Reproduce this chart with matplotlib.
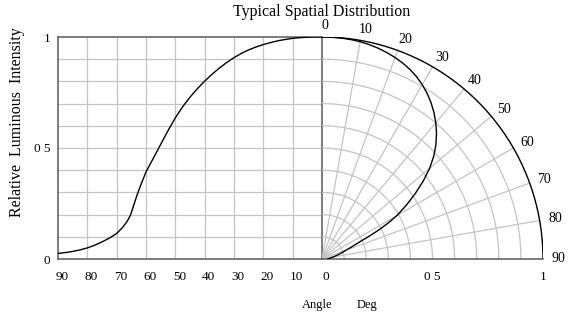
import numpy as np
import matplotlib.pyplot as plt
import matplotlib.transforms as mtransforms

plt.rcParams['font.family'] = ['Liberation Serif', 'DejaVu Serif']

# Relative luminous intensity (angle in degrees)
angle_deg = [0, 2.5, 5, 7.5, 10, 12.5, 15, 17.5, 20, 22.5, 25, 27.5, 30, 32.5, 35,
             37.5, 40, 42.5, 45, 47.5, 50, 52.5, 55, 57.5, 60, 61.5, 63, 64.5, 65.3,
             66.5, 68, 70, 72.5, 75, 77.5, 80, 82.5, 85, 87.5, 90]
intensity = [1.0, 1.0, 0.999, 0.997, 0.994, 0.989, 0.983, 0.975, 0.966, 0.955, 0.942,
             0.926, 0.907, 0.885, 0.86, 0.832, 0.801, 0.767, 0.729, 0.686, 0.636, 0.578,
             0.516, 0.454, 0.392, 0.343, 0.29, 0.23, 0.197, 0.168, 0.142, 0.115, 0.094,
             0.077, 0.062, 0.05, 0.041, 0.034, 0.029, 0.025]

left_ticks = [90, 80, 70, 60, 50, 40, 30, 20, 10, 0]
polar_labels = [0, 10, 20, 30, 40, 50, 60, 70, 80, 90]
y_ticks = [0, 0.5, 1]
y_ticklabels = ['0', '0 5', '1']

grid_c = '#c4c4c4'
frame_c = '#5a5a5a'

fig = plt.figure(figsize=(5.68, 3.17), dpi=100)
W, H = 568, 317
ax = fig.add_axes([58 / W, (H - 259) / H, 264 / W, 222 / H])
axp = fig.add_axes([322 / W, (H - 259) / H, 221 / W, 222 / H])

# ---- left cartesian panel
ax.set_xlim(90, 0)
ax.set_ylim(0, 1)
for a in range(10, 90, 10):
    ax.axvline(a, color=grid_c, lw=0.9, zorder=1)
for v in np.arange(0.1, 0.95, 0.1):
    ax.axhline(v, color=grid_c, lw=0.9, zorder=1)
ax.plot(angle_deg, intensity, color='black', lw=1.0, zorder=3)
for s in ax.spines.values():
    s.set_color(frame_c)
    s.set_linewidth(1.1)
ax.set_xticks(left_ticks)
ax.set_xticklabels([str(t) for t in left_ticks])
ax.set_yticks(y_ticks)
ax.set_yticklabels(y_ticklabels)
ax.tick_params(axis='x', length=0, labelsize=9.5, pad=9)
ax.tick_params(axis='y', length=0, labelsize=9.5, pad=5.5)
shift = mtransforms.ScaledTranslation(0.04, 0, fig.dpi_scale_trans)
for lab in ax.get_xticklabels():
    lab.set_transform(lab.get_transform() + shift)

# ---- right polar panel (drawn in cartesian coords)
axp.set_xlim(0, 1)
axp.set_ylim(0, 1)
t = np.radians(np.linspace(0, 90, 200))
for r in np.arange(0.1, 0.95, 0.1):
    axp.plot(r * np.sin(t), r * np.cos(t), color=grid_c, lw=0.9, zorder=1)
axp.plot(np.sin(t), np.cos(t), color='black', lw=1.0, zorder=2)
for a in range(10, 90, 10):
    th = np.radians(a)
    axp.plot([0, np.sin(th)], [0, np.cos(th)], color=grid_c, lw=0.9, zorder=1)
th = np.radians(angle_deg)
r = np.array(intensity)
axp.plot(r * np.sin(th), r * np.cos(th), color='black', lw=1.0, zorder=3)
for a in polar_labels:
    thl = np.radians(a)
    axp.text(1.055 * np.sin(thl) + 0.015, 1.05 * np.cos(thl), str(a),
             ha='center', va='center', fontsize=10)
for side in ['top', 'right', 'left']:
    axp.spines[side].set_visible(False)
axp.spines['bottom'].set_color(frame_c)
axp.spines['bottom'].set_linewidth(1.1)
axp.set_yticks([])
axp.set_xticks([0.5, 1])
axp.set_xticklabels(['0 5', '1'])
axp.tick_params(length=0, labelsize=9.5, pad=9)
axp.patch.set_visible(False)

fig.text(322 / W, 1 - 12.5 / H, 'Typical Spatial Distribution', ha='center', va='center',
         fontsize=11.5)
fig.text(17 / W, 1 - 122 / H, 'Relative  Luminous  Intensity', ha='center', va='center',
         rotation=90, fontsize=11.5)
fig.text(317.5 / W, 1 - 305 / H, 'Angle', ha='center', va='center', fontsize=9)
fig.text(367 / W, 1 - 305 / H, 'Deg', ha='center', va='center', fontsize=9)

fig.savefig('out.png', dpi=100)
